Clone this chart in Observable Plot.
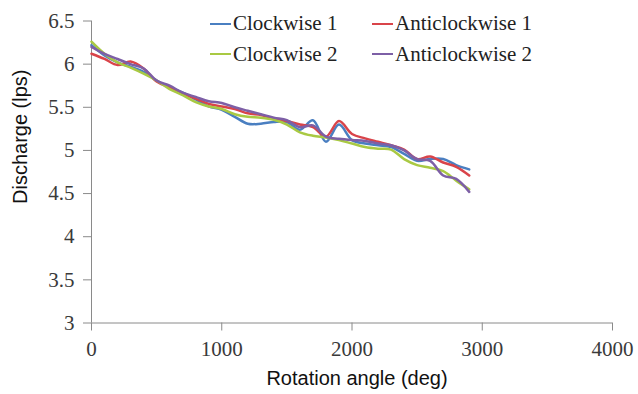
<!DOCTYPE html>
<html>
<head>
<meta charset="utf-8">
<script src="https://cdn.jsdelivr.net/npm/d3@7"></script>
<script src="https://cdn.jsdelivr.net/npm/@observablehq/plot@0.6"></script>
<style>
  html, body { margin: 0; padding: 0; background: #fff; }
  #wrap { position: relative; width: 638px; height: 394px; }
  #legend { position: absolute; left: 0; top: 0; font-family: "Liberation Serif", "Times New Roman", serif; font-size: 21px; color: #222; }
  .item { position: absolute; display: flex; align-items: center; white-space: nowrap; }
  .swatch { width: 21px; height: 2px; margin-right: 2px; }
</style>
</head>
<body>
<div id="wrap"><div id="legend"></div></div>
<script>
const angles = [0,100,200,300,400,500,600,700,800,900,1000,1100,1200,1300,1400,1500,1600,1700,1800,1900,2000,2100,2200,2300,2400,2500,2600,2700,2800,2900];
const clockwise1 = [6.22,6.10,6.02,5.97,5.91,5.81,5.73,5.67,5.59,5.51,5.47,5.39,5.31,5.31,5.33,5.33,5.24,5.35,5.10,5.30,5.12,5.08,5.06,5.04,4.96,4.88,4.90,4.90,4.83,4.78];
const anticlockwise1 = [6.12,6.06,5.99,6.03,5.95,5.80,5.73,5.66,5.60,5.54,5.51,5.48,5.43,5.41,5.37,5.34,5.30,5.27,5.16,5.34,5.19,5.14,5.10,5.06,5.01,4.90,4.93,4.86,4.81,4.71];
const clockwise2 = [6.26,6.12,6.02,5.96,5.89,5.81,5.71,5.64,5.56,5.51,5.48,5.42,5.39,5.38,5.355,5.30,5.21,5.17,5.15,5.12,5.08,5.04,5.02,5.01,4.90,4.83,4.80,4.76,4.65,4.55];
const anticlockwise2 = [6.20,6.12,6.06,6.00,5.95,5.81,5.75,5.67,5.62,5.57,5.55,5.50,5.46,5.42,5.38,5.35,5.27,5.29,5.16,5.135,5.12,5.11,5.08,5.06,5.00,4.90,4.88,4.71,4.67,4.52];
const seriesNames = ["Clockwise 1", "Anticlockwise 1", "Clockwise 2", "Anticlockwise 2"];
const seriesColors = ["#4a7fc1", "#d9444a", "#a9c943", "#7d5fa6"];
const xTicks = [0, 1000, 2000, 3000, 4000];
const yTicks = [3, 3.5, 4, 4.5, 5, 5.5, 6, 6.5];

const seriesValues = [clockwise1, anticlockwise1, clockwise2, anticlockwise2];
const rows = [];
seriesNames.forEach((name, i) => {
  angles.forEach((a, j) => rows.push({series: name, angle: a, discharge: seriesValues[i][j]}));
});

const axisColor = "#8a8a8a";

const chart = Plot.plot({
  width: 638,
  height: 394,
  marginLeft: 91,
  marginRight: 26,
  marginTop: 20.5,
  marginBottom: 71.5,
  style: {background: "#fff", overflow: "visible", fontFamily: "'Liberation Serif', 'Times New Roman', serif", fontSize: "21px", color: "#3a3a3a"},
  x: {domain: [0, 4000]},
  y: {domain: [3, 6.5]},
  color: {domain: seriesNames, range: seriesColors},
  marks: [
    Plot.axisX({ticks: xTicks, tickSize: 8, tickPadding: 10, tickFormat: d => String(d), label: null, stroke: axisColor}),
    Plot.axisY({ticks: yTicks, tickSize: 8, tickPadding: 9, tickFormat: d => String(d), label: null, stroke: axisColor}),
    Plot.ruleX([0], {stroke: axisColor, strokeWidth: 1}),
    Plot.ruleY([3], {stroke: axisColor, strokeWidth: 1}),
    Plot.line(rows, {x: "angle", y: "discharge", z: "series", stroke: "series", strokeWidth: 2.5, curve: "catmull-rom"}),
    Plot.text(["Discharge (lps)"], {frameAnchor: "left", dx: -71, dy: 32, rotate: -90, fontFamily: "'Liberation Sans', Arial, sans-serif", fontSize: 20, fill: "#111"}),
    Plot.text(["Rotation angle (deg)"], {frameAnchor: "bottom", dx: 5, dy: 62, fontFamily: "'Liberation Sans', Arial, sans-serif", fontSize: 20, fill: "#111"})
  ]
});
document.getElementById("wrap").prepend(chart);

const legend = document.getElementById("legend");
const legendPos = [[210, 23.5], [372, 23.5], [210, 54], [372, 54]];
seriesNames.forEach((name, i) => {
  const it = document.createElement("div");
  it.className = "item";
  it.style.left = legendPos[i][0] + "px";
  it.style.top = (legendPos[i][1] - 13) + "px";
  it.style.height = "26px";
  const sw = document.createElement("span");
  sw.className = "swatch";
  sw.style.background = seriesColors[i];
  const tx = document.createElement("span");
  tx.textContent = name;
  it.append(sw, tx);
  legend.append(it);
});
</script>
</body>
</html>
